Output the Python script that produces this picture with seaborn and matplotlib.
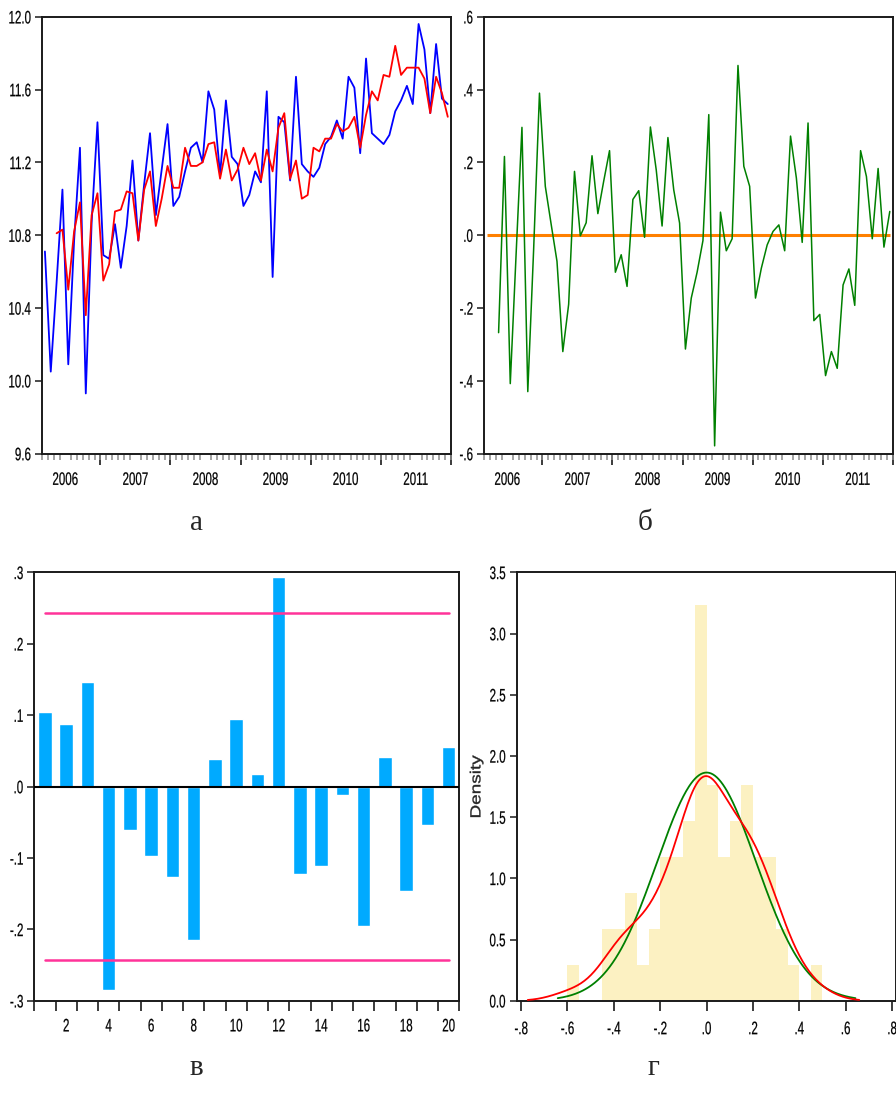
import numpy as np
import pandas as pd
import matplotlib
matplotlib.use("Agg")
import matplotlib.pyplot as plt
from matplotlib.ticker import FixedLocator, FuncFormatter
from matplotlib.patheffects import AbstractPathEffect
from matplotlib.transforms import Affine2D
import seaborn as sns

# Monthly series, March 2006 - December 2011
years = [2006, 2007, 2008, 2009, 2010, 2011]

actual = [10.71, 10.05, 10.54, 11.05, 10.09, 10.77, 11.28, 9.93, 10.87, 11.42,
          10.69, 10.67, 10.86, 10.62, 10.85, 11.21, 10.77, 11.08, 11.36, 10.91,
          11.16, 11.41, 10.96, 11.01, 11.15, 11.28, 11.31, 11.20, 11.59, 11.49,
          11.13, 11.54, 11.23, 11.19, 10.96, 11.02, 11.15, 11.09, 11.59, 10.57,
          11.45, 11.42, 11.10, 11.67, 11.19, 11.15, 11.12, 11.17, 11.30, 11.34,
          11.43, 11.33, 11.67, 11.61, 11.25, 11.77, 11.36, 11.33, 11.30, 11.35,
          11.48, 11.54, 11.62, 11.52, 11.96, 11.82, 11.47, 11.85, 11.55, 11.52]

# model fit starts two months later (lagged regressors)
fitted = [np.nan, np.nan,
          10.81, 10.83, 10.50, 10.82, 10.98, 10.36, 10.91, 11.03,
          10.55, 10.64, 10.93, 10.94, 11.04, 11.03, 10.77, 11.05, 11.15, 10.85,
          11.00, 11.18, 11.06, 11.06, 11.28, 11.18, 11.18, 11.20, 11.30, 11.31,
          11.11, 11.27, 11.10, 11.16, 11.28, 11.19, 11.25, 11.10, 11.27, 11.15,
          11.39, 11.47, 11.11, 11.21, 11.00, 11.02, 11.28, 11.26, 11.33, 11.33,
          11.41, 11.37, 11.39, 11.45, 11.28, 11.46, 11.59, 11.54, 11.68, 11.67,
          11.84, 11.68, 11.72, 11.72, 11.72, 11.66, 11.47, 11.67, 11.58, 11.45]

residual = [-0.268, 0.216, -0.408, -0.052, 0.296, -0.430, -0.040, 0.390,
            0.134, 0.030, -0.072, -0.320, -0.190, 0.175, -0.002, 0.034, 0.218,
            0.059, 0.148, 0.232, -0.102, -0.054, -0.141, 0.098, 0.122, -0.006,
            0.297, 0.179, 0.025, 0.268, 0.124, 0.033, -0.313, -0.173, -0.102,
            -0.015, 0.331, -0.579, 0.063, -0.043, -0.010, 0.466, 0.189, 0.134,
            -0.173, -0.091, -0.027, 0.010, 0.028, -0.043, 0.272, 0.157, -0.020,
            0.308, -0.235, -0.218, -0.386, -0.320, -0.366, -0.137, -0.093,
            -0.193, 0.232, 0.161, -0.010, 0.183, -0.033, 0.065]

acf_lags = list(range(1, 21))
acf_values = [0.104, 0.087, 0.147, -0.285, -0.061, -0.098, -0.127, -0.215,
              0.039, 0.094, 0.018, 0.294, -0.122, -0.112, -0.012, -0.196,
              0.042, -0.146, -0.054, 0.055]

captions = ["а", "б", "в", "г"]

# ---------------------------------------------------------------------------
sns.set_theme(style="ticks")
SANS = ["Liberation Sans", "DejaVu Sans"]
SERIF = ["Liberation Serif", "DejaVu Serif"]
plt.rcParams["font.family"] = SANS
plt.rcParams["axes.edgecolor"] = "#1a1a1a"
plt.rcParams["axes.linewidth"] = 1.4
plt.rcParams["xtick.color"] = "#1a1a1a"
plt.rcParams["ytick.color"] = "#1a1a1a"
plt.rcParams["xtick.labelcolor"] = "black"
plt.rcParams["ytick.labelcolor"] = "black"

# condensed tick labels: small layout size, glyphs drawn taller
NARROW = 0.64
TICK_FS = 13 * NARROW


class Stretch(AbstractPathEffect):
    """Scale glyph outlines about the ink box centre, with a light outline."""

    def __init__(self, sx=1.0, sy=1.0, weight=0.0):
        super().__init__()
        self.sx = sx
        self.sy = sy
        self.weight = weight

    def draw_path(self, renderer, gc, tpath, affine, rgbFace=None):
        ext = tpath.get_extents()
        x0 = 0.5 * (ext.x0 + ext.x1)
        y0 = 0.5 * (ext.y0 + ext.y1)
        local = (Affine2D().translate(-x0, -y0)
                 .scale(self.sx, self.sy).translate(x0, y0))
        gc0 = renderer.new_gc()
        gc0.copy_properties(gc)
        if self.weight > 0 and rgbFace is not None:
            gc0.set_linewidth(self.weight)
            gc0.set_foreground(rgbFace)
        renderer.draw_path(gc0, tpath, local + affine, rgbFace)
        gc0.restore()


def narrow_labels(ax):
    for lab in ax.get_xticklabels() + ax.get_yticklabels():
        lab.set_path_effects([Stretch(1.0, 1 / NARROW, weight=0.15)])


W, H = 896, 1095
fig = plt.figure(figsize=(W / 100, H / 100), dpi=100)
fig.patch.set_facecolor("white")


def rect(left, top, right, bottom):
    return [left / W, 1 - bottom / H, (right - left) / W, (bottom - top) / H]


ax_a = fig.add_axes(rect(42, 16.7, 450.7, 453.5))
ax_b = fig.add_axes(rect(484, 16.7, 892.7, 453.5))
ax_c = fig.add_axes(rect(34.3, 572.3, 459.3, 1000.7))
ax_d = fig.add_axes(rect(516.7, 572.3, 895.5, 1000.7))

t = np.arange(len(actual))


def month_pos(year, month):
    # position of the first day of a month on the observation index
    return (year - 2006) * 12 + (month - 3) - 0.5


month_edges = np.arange(len(actual) + 1) - 0.5
year_edges = [month_pos(y + 1, 1) for y in years]
year_mid = [month_pos(y, 7) for y in years]


def dot_fmt(v, _pos=None):
    v = round(v, 6)
    if abs(v) < 1e-9:
        v = 0.0
    return f"{v:.1f}".replace("0.", ".", 1)


def time_axis(ax):
    ax.set_xlim(-0.5, len(actual) - 0.5)
    ax.set_xticks(year_mid, [str(y) for y in years])
    ax.xaxis.set_minor_locator(FixedLocator(month_edges))
    ax.tick_params(axis="x", which="major", length=0, pad=14.5,
                   labelsize=TICK_FS)
    ax.tick_params(axis="x", which="minor", length=4.5, width=1.1,
                   color="#8a8a8a")
    sec = ax.secondary_xaxis("bottom")
    sec.set_xticks(year_edges, labels=[""] * len(year_edges))
    sec.tick_params(axis="x", length=8, width=1.2, color="#1a1a1a")
    sec.spines["bottom"].set_visible(False)
    ax.tick_params(axis="y", length=5, width=1.1, pad=3, labelsize=TICK_FS)
    ax.set_xlabel("")
    ax.set_ylabel("")


# (а) actual vs fitted
sns.lineplot(x=t, y=actual, color="#0000ff", lw=1.3, ax=ax_a)
sns.lineplot(x=t, y=fitted, color="#ff0000", lw=1.3, ax=ax_a)
ax_a.set_ylim(9.6, 12.0)
ax_a.set_yticks(np.round(np.arange(9.6, 12.01, 0.4), 1))
ax_a.yaxis.set_major_formatter(FuncFormatter(lambda v, p: f"{v:.1f}"))
time_axis(ax_a)

# (б) residuals
t_res = t[len(actual) - len(residual):]
ax_b.hlines(0, t[0], t[-1], color="#ff8000", lw=2.2, zorder=1)
sns.lineplot(x=t_res, y=residual, color="#008000", lw=1.1, ax=ax_b, zorder=2)
ax_b.set_ylim(-0.6, 0.6)
ax_b.set_yticks(np.round(np.arange(-0.6, 0.61, 0.2), 1))
ax_b.yaxis.set_major_formatter(FuncFormatter(dot_fmt))
time_axis(ax_b)

# (в) autocorrelation of residuals with 2/sqrt(n) band
band = 2 / np.sqrt(len(residual))
sns.barplot(x=acf_lags, y=acf_values, native_scale=True, width=0.64,
            color="#00aaff", saturation=1, errorbar=None, ax=ax_c, zorder=2)
ax_c.axhline(0, color="black", lw=1.5, zorder=3)
sns.lineplot(x=acf_lags, y=[band] * len(acf_lags), color="#ff3399", lw=1.8,
             ax=ax_c, zorder=4)
sns.lineplot(x=acf_lags, y=[-band] * len(acf_lags), color="#ff3399", lw=1.8,
             ax=ax_c, zorder=4)
ax_c.set_xlim(0.5, 20.5)
ax_c.set_ylim(-0.3, 0.3)
ax_c.set_yticks(np.round(np.arange(-0.3, 0.31, 0.1), 1))
ax_c.yaxis.set_major_formatter(FuncFormatter(dot_fmt))
ax_c.set_xticks(acf_lags[1::2], [str(k) for k in acf_lags[1::2]])
ax_c.xaxis.set_minor_locator(FixedLocator(np.arange(0.5, 20.6, 1.0)))
ax_c.tick_params(axis="x", which="major", length=0, pad=14, labelsize=TICK_FS)
ax_c.tick_params(axis="x", which="minor", length=7, width=1.2)
ax_c.tick_params(axis="y", length=5, width=1.1, pad=3, labelsize=TICK_FS)
ax_c.set_xlabel("")
ax_c.set_ylabel("")

# (г) residual histogram, normal density and kernel density
edges = np.round(np.arange(-0.6, 0.5001, 0.05), 2)
sns.histplot(x=residual, bins=edges, stat="density", color="#fcf1c2",
             alpha=1, linewidth=0, ax=ax_d, zorder=1)
res = np.asarray(residual)
mu, sd = res.mean(), res.std(ddof=1)
xg = np.linspace(mu - 3 * sd, mu + 3 * sd, 300)
pdf = np.exp(-0.5 * ((xg - mu) / sd) ** 2) / (sd * np.sqrt(2 * np.pi))
sns.lineplot(x=xg, y=pdf, color="#008000", lw=1.3, ax=ax_d, zorder=3)
sns.kdeplot(x=residual, bw_adjust=0.95, cut=2.2, color="#ff0000", lw=1.3,
            ax=ax_d, zorder=4)
ax_d.set_xlim(-0.819, 0.815)
ax_d.set_ylim(0, 3.5)
ax_d.set_xticks(np.round(np.arange(-0.8, 0.81, 0.2), 1))
ax_d.xaxis.set_major_formatter(FuncFormatter(dot_fmt))
ax_d.set_yticks(np.round(np.arange(0, 3.51, 0.5), 1))
ax_d.yaxis.set_major_formatter(FuncFormatter(lambda v, p: f"{v:.1f}"))
ax_d.tick_params(axis="x", length=7, width=1.2, pad=9, labelsize=TICK_FS)
ax_d.tick_params(axis="y", length=5, width=1.1, pad=3, labelsize=TICK_FS)
ax_d.set_xlabel("")
ax_d.set_ylabel("Density", fontsize=10.5)
ax_d.yaxis.set_label_coords(-0.088, 0.5)
ax_d.yaxis.label.set_path_effects([Stretch(1.3, 1.0, weight=0.25)])

for ax in (ax_a, ax_b, ax_c, ax_d):
    for sp in ax.spines.values():
        sp.set_visible(True)
    ax.set_facecolor("white")
    narrow_labels(ax)

# panel captions
for txt, (cx, cy) in zip(captions, [(196, 523), (645, 523), (196, 1068),
                                     (653, 1068)]):
    fig.text(cx / W, 1 - cy / H, txt, family=SERIF, fontsize=21,
             ha="center", va="center")

fig.savefig("out.png", dpi=100, facecolor="white")
